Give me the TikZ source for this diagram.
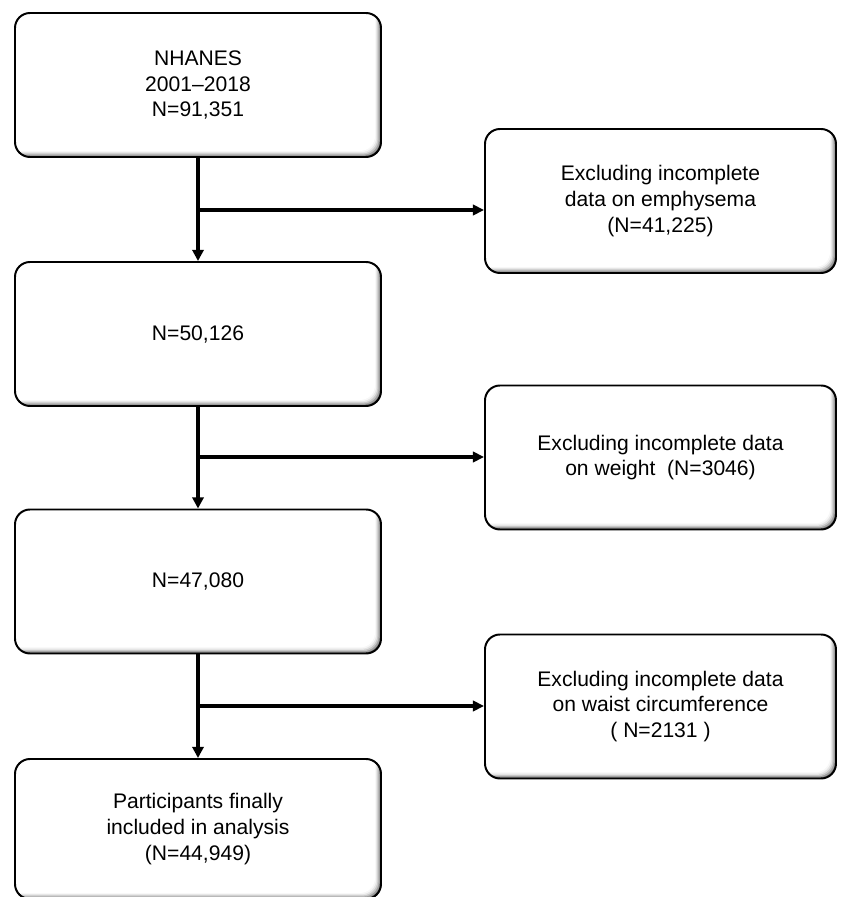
\documentclass[tikz,border=0pt]{standalone}
\usepackage{fontspec}
\setmainfont{Liberation Sans}
\usetikzlibrary{arrows.meta,positioning,calc}
\tikzset{
  cohort/.style={rectangle, rounded corners=0.375cm, draw=black, line width=1.4pt, fill=black!55,
                 align=center, font=\fontsize{15}{18.3}\selectfont,
                 minimum width=9.15cm, minimum height=3.6cm,
                 path picture={\foreach \d/\c in {0.03/38,0.06/22,0.09/10,0.12/3,0.15/0}{
                   \fill[black!\c, rounded corners=0.375cm]
                     ([xshift=-1cm,yshift=1cm]path picture bounding box.north west) rectangle
                     ([xshift=-\d cm,yshift=\d cm]path picture bounding box.south east);}}},
  exclbox/.style={cohort, minimum width=8.775cm},
  arr/.style={-{Triangle[length=8pt,width=8pt]}, line width=2.3pt},
  arrh/.style={-{Triangle[length=8pt,width=7.5pt]}, line width=2.8pt},
}

\begin{document}
\begin{tikzpicture}
  \useasboundingbox (0,0) rectangle (21,22.425);
  % cohort boxes
  \node[cohort] (nhanes) at (4.95,20.3) {NHANES\\2001--2018\\N=91,351};
  \node[cohort] (n50) at (4.95,14.075) {N=50,126};
  \node[cohort] (n47) at (4.95,7.8875) {N=47,080};
  \node[cohort, minimum height=3.5cm] (final) at (4.95,1.7)
    {Participants finally\\included in analysis\\(N=44,949)};
  % exclusions
  \node[exclbox] (exemph) at (16.5125,17.4)
    {Excluding incomplete\\data on emphysema\\(N=41,225)};
  \node[exclbox] (exweight) at (16.5125,10.9875)
    {Excluding incomplete data\\on weight~~(N=3046)};
  \node[exclbox] (exwaist) at (16.5125,4.7625)
    {Excluding incomplete data\\on waist circumference\\( N=2131 )};
  % flow
  \coordinate (j1) at (4.95,17.175);
  \coordinate (j2) at (4.95,11.0);
  \coordinate (j3) at (4.95,4.775);
  \draw[arr] (nhanes) -- (n50);
  \draw[arr] (n50) -- (n47);
  \draw[arr] (n47) -- (final);
  \draw[arrh] (j1) -- (j1 -| exemph.west);
  \draw[arrh] (j2) -- (j2 -| exweight.west);
  \draw[arrh] (j3) -- (j3 -| exwaist.west);
\end{tikzpicture}
\end{document}
